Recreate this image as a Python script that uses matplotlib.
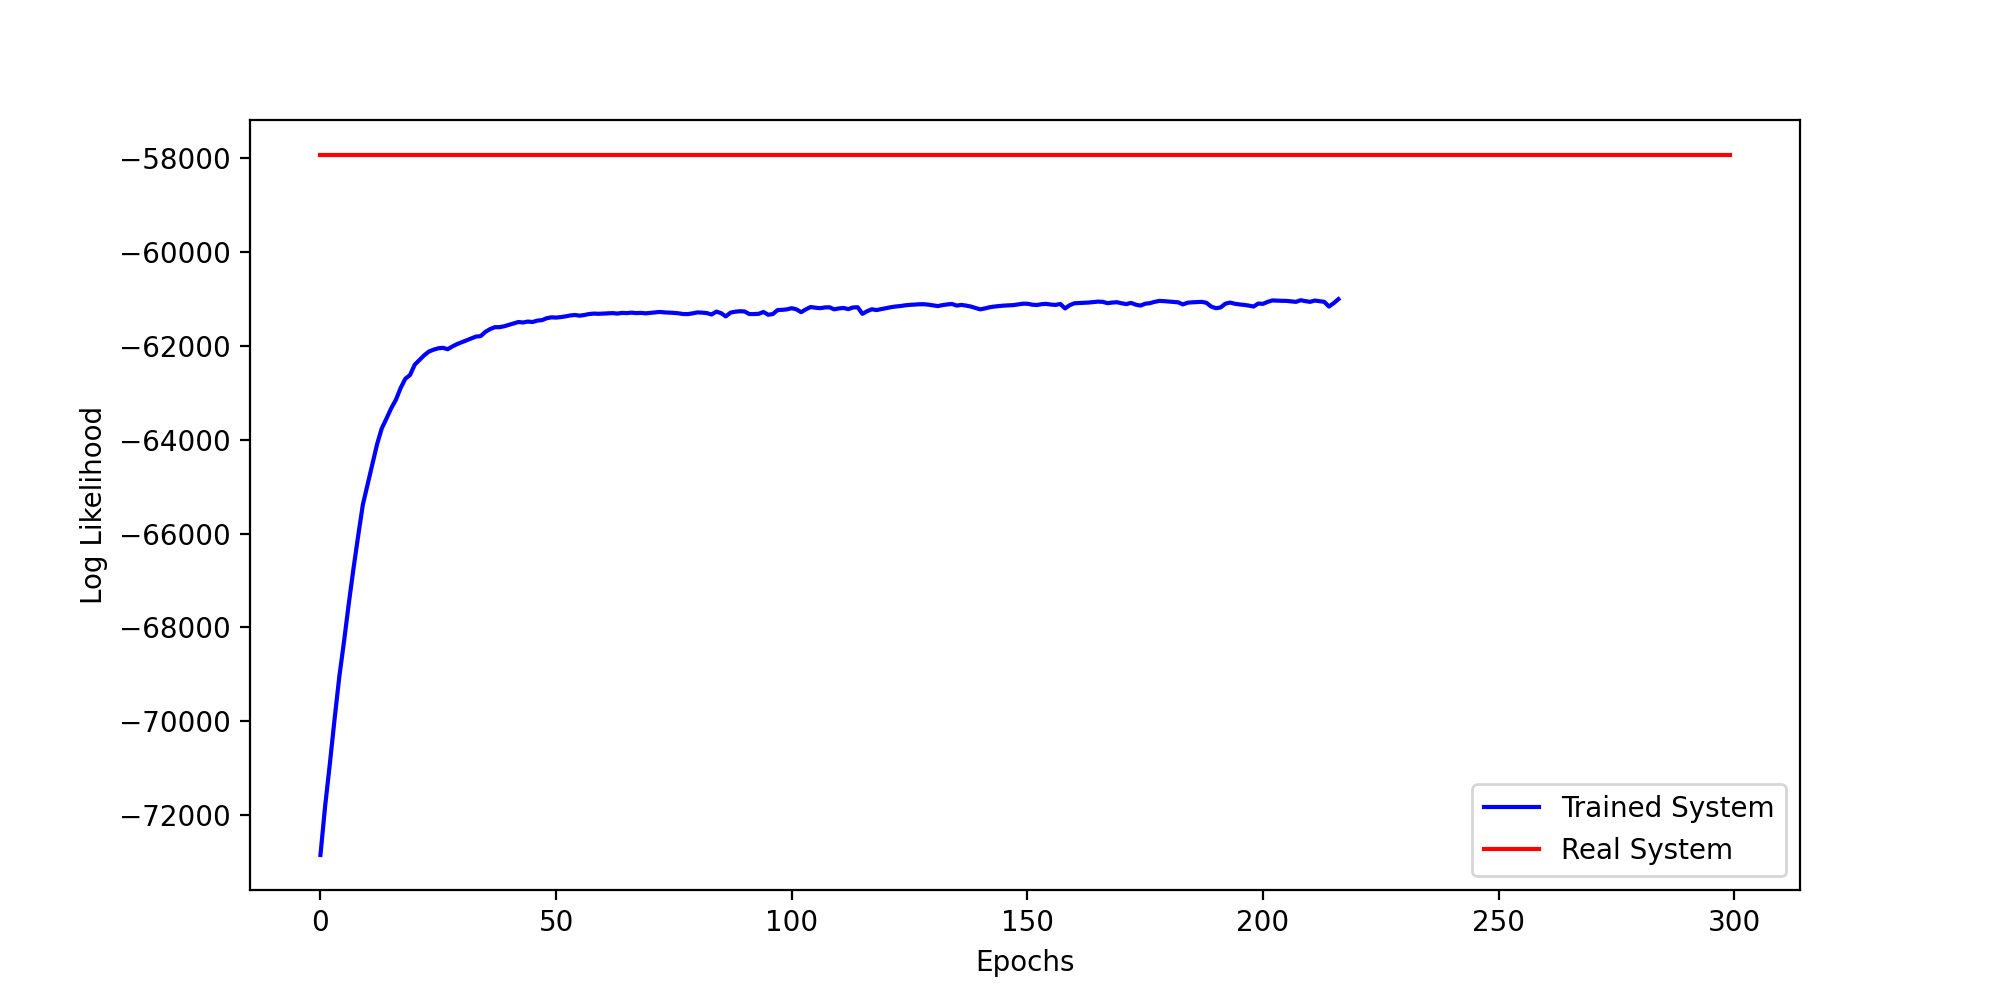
import numpy as np
from matplotlib import pyplot as plt

# log likelihood of the trained system, one value per epoch
trained_ll = [
    -72850, -71800, -70900, -69950, -69050, -68300, -67500, -66750, -66050, -65380,
    -64950, -64530, -64100, -63760, -63550, -63330, -63150, -62900, -62700, -62620,
    -62400, -62300, -62200, -62120, -62080, -62050, -62040, -62070, -62010, -61960,
    -61920, -61880, -61840, -61800, -61790, -61700, -61640, -61600, -61600, -61580,
    -61550, -61520, -61490, -61500, -61480, -61490, -61460, -61450, -61410, -61390,
    -61395, -61385, -61370, -61350, -61340, -61355, -61340, -61320, -61310, -61315,
    -61310, -61305, -61300, -61310, -61295, -61300, -61290, -61300, -61295, -61305,
    -61295, -61285, -61275, -61285, -61290, -61295, -61305, -61320, -61320, -61305,
    -61285, -61290, -61300, -61330, -61268, -61300, -61370, -61290, -61270, -61260,
    -61265, -61320, -61320, -61315, -61275, -61335, -61320, -61235, -61230, -61220,
    -61195, -61220, -61280, -61220, -61170, -61185, -61195, -61180, -61175, -61220,
    -61200, -61190, -61215, -61180, -61175, -61315, -61260, -61218, -61235, -61215,
    -61195, -61175, -61160, -61150, -61135, -61125, -61118, -61112, -61110, -61120,
    -61135, -61150, -61130, -61115, -61105, -61140, -61125, -61140, -61160, -61190,
    -61220, -61200, -61175, -61160, -61150, -61140, -61135, -61130, -61115, -61100,
    -61100, -61120, -61128, -61110, -61103, -61118, -61125, -61105, -61200, -61130,
    -61090, -61085, -61080, -61075, -61065, -61055, -61060, -61088, -61075, -61068,
    -61090, -61108, -61082, -61120, -61140, -61100, -61088, -61060, -61040, -61045,
    -61053, -61062, -61070, -61115, -61078, -61070, -61065, -61060, -61080, -61160,
    -61195, -61180, -61100, -61075, -61100, -61115, -61125, -61140, -61160, -61096,
    -61103, -61060, -61030, -61035, -61038, -61040, -61050, -61060, -61025, -61045,
    -61060, -61032, -61045, -61060, -61160, -61088, -61003,
]

# log likelihood of the real system, flat over all epochs
real_ll_value = -57930
n_epochs = 300

trained_epochs = np.arange(len(trained_ll))
real_epochs = np.arange(n_epochs)
real_ll = np.full(n_epochs, real_ll_value)

fig, axes = plt.subplots(figsize=(10, 5), dpi=200)
axes.plot(trained_epochs, trained_ll, color='blue', label='Trained System')
axes.plot(real_epochs, real_ll, color='red', label='Real System')
axes.set_xlabel('Epochs')
axes.set_ylabel('Log Likelihood')
axes.legend(loc='lower right')

fig.savefig('out.png')
